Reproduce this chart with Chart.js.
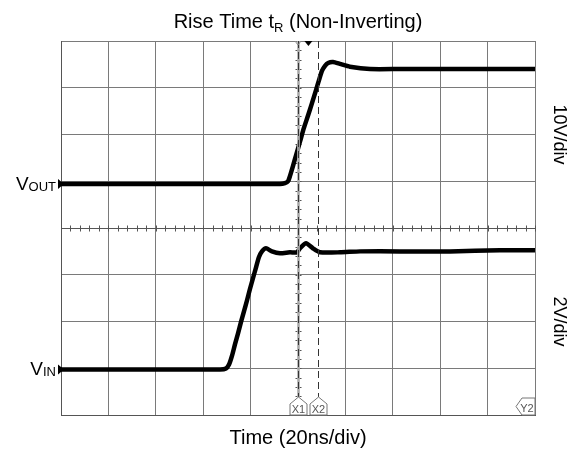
<!DOCTYPE html>
<html><head><meta charset="utf-8">
<script src="https://cdn.jsdelivr.net/npm/chart.js@4"></script>
<style>html,body{margin:0;padding:0;background:#fff}</style>
</head><body>
<canvas id="c" width="568" height="450" style="width:568px;height:450px;display:block"></canvas>
<script>
// ---- data (time in ns, 20 ns/div, 0 = centre of screen) ----
const voutTimeNs = [-100, -60, -20, -7.6, -5.5, -4.2, -3.4, -2.1, -0.8, 0.8, 2.5, 4.2, 5.9, 7.6, 8.9, 10.1, 11.4, 12.7, 14.8, 17.7, 21.9, 30.4, 43, 64, 85, 100];
const voutVolts  = [0, 0, 0, 0, 0.2, 0.6, 1.7, 3.9, 6.2, 9.0, 12.0, 14.6, 17.3, 20.1, 22.3, 24.2, 25.3, 25.9, 26.1, 25.7, 25.1, 24.6, 24.6, 24.6, 24.6, 24.6];
const vinTimeNs  = [-100, -60, -32.9, -30.4, -29.1, -27.8, -26.6, -25.3, -24.1, -22.8, -21.5, -20.3, -19.0, -17.7, -16.5, -15.2, -13.5, -11.0, -7.6, -3.4, -0.4, 0.8, 3.4, 6.3, 9.3, 17.7, 26.2, 43, 64.1, 85.2, 100];
const vinVolts   = [0, 0, 0, 0.04, 0.21, 0.60, 1.07, 1.54, 2.01, 2.48, 2.96, 3.43, 3.90, 4.37, 4.80, 5.05, 5.18, 5.05, 4.97, 5.01, 5.01, 5.18, 5.40, 5.18, 5.01, 5.01, 5.05, 5.05, 5.05, 5.10, 5.10];
const cursorNames = ['X1', 'X2'];
const cursorTimeNs = [0, 8.4];
const triggerTimeNs = [4.4];
const xTicksNs = [-100, -80, -60, -40, -20, 0, 20, 40, 60, 80, 100];
const divTicks = [-4, -3, -2, -1, 0, 1, 2, 3, 4];
const voutRange = [-49.4, 30.6];   // 10 V/div, 8 div
const vinRange  = [-1.95, 14.05];  // 2 V/div, 8 div
const titleMain = 'Rise Time t';
const titleSub = 'R';
const titleTail = ' (Non-Inverting)';
const xTitle = 'Time (20ns/div)';
const voutScaleLabel = '10V/div';
const vinScaleLabel = '2V/div';

const FONT = '"Liberation Sans", Arial, sans-serif';
const toPts = (xs, ys) => xs.map((x, i) => ({x: x, y: ys[i]}));

const scopePlugin = {
  id: 'scope',
  beforeDatasetsDraw(chart) {
    const ctx = chart.ctx, xs = chart.scales.x, ys = chart.scales.yGrid;
    ctx.save();
    ctx.strokeStyle = '#555';
    ctx.lineWidth = 1;
    const cy = Math.round(ys.getPixelForValue(0)) + 0.5;
    ctx.beginPath(); ctx.moveTo(xs.left, cy); ctx.lineTo(xs.right, cy); ctx.stroke();
    for (let t = -100; t <= 100; t += 4) {
      const px = Math.round(xs.getPixelForValue(t)) + 0.5;
      ctx.beginPath(); ctx.moveTo(px, cy - 3); ctx.lineTo(px, cy + 3); ctx.stroke();
    }
    const cx = Math.round(xs.getPixelForValue(0)) + 0.5;
    for (let d = -4; d <= 4; d += 0.2) {
      const py = Math.round(ys.getPixelForValue(d)) + 0.5;
      ctx.beginPath(); ctx.moveTo(cx - 3, py); ctx.lineTo(cx + 3, py); ctx.stroke();
    }
    ctx.restore();
  },
  afterDatasetsDraw(chart) {
    const ctx = chart.ctx, xs = chart.scales.x, a = chart.chartArea;
    ctx.save();
    cursorTimeNs.forEach((t, i) => {
      const px = Math.round(xs.getPixelForValue(t)) + 0.5;
      if (i === 0) {
        ctx.strokeStyle = 'rgba(175,175,175,0.85)'; ctx.lineWidth = 3; ctx.setLineDash([]);
        ctx.beginPath(); ctx.moveTo(px, a.top); ctx.lineTo(px, a.bottom - 18); ctx.stroke();
      }
      ctx.strokeStyle = '#333'; ctx.lineWidth = 1; ctx.setLineDash([7, 4]);
      ctx.beginPath(); ctx.moveTo(px, a.top); ctx.lineTo(px, a.bottom - 18); ctx.stroke();
      ctx.setLineDash([]);
      const hw = 8.5, y0 = a.bottom, yS = a.bottom - 11, yA = a.bottom - 18;
      ctx.fillStyle = '#fff'; ctx.strokeStyle = '#777'; ctx.lineWidth = 1;
      ctx.beginPath();
      ctx.moveTo(px - hw, y0); ctx.lineTo(px - hw, yS); ctx.lineTo(px, yA); ctx.lineTo(px + hw, yS); ctx.lineTo(px + hw, y0);
      ctx.closePath(); ctx.fill(); ctx.stroke();
      ctx.fillStyle = '#555'; ctx.font = '11px ' + FONT; ctx.textAlign = 'center'; ctx.textBaseline = 'alphabetic';
      ctx.fillText(cursorNames[i], px, y0 - 2);
    });
    {
      const r = a.right, b = a.bottom;
      ctx.fillStyle = '#fff'; ctx.strokeStyle = '#777'; ctx.lineWidth = 1;
      ctx.beginPath();
      ctx.moveTo(r, b - 17); ctx.lineTo(r - 13, b - 17); ctx.lineTo(r - 19, b - 8.5); ctx.lineTo(r - 13, b); ctx.lineTo(r, b);
      ctx.closePath(); ctx.fill(); ctx.stroke();
      ctx.fillStyle = '#555'; ctx.font = '11px ' + FONT; ctx.textAlign = 'center';
      ctx.fillText('Y2', r - 8, b - 3);
    }
    {
      const px = xs.getPixelForValue(triggerTimeNs[0]);
      ctx.fillStyle = '#000';
      ctx.beginPath(); ctx.moveTo(px - 4, a.top); ctx.lineTo(px + 4, a.top); ctx.lineTo(px, a.top + 5); ctx.closePath(); ctx.fill();
      const p1 = xs.getPixelForValue(cursorTimeNs[0]);
      ctx.strokeStyle = '#888'; ctx.lineWidth = 1;
      ctx.beginPath(); ctx.moveTo(p1 - 3, a.top); ctx.lineTo(p1, a.top + 4); ctx.lineTo(p1 + 3, a.top); ctx.stroke();
    }
    ['yOut', 'yIn'].forEach(id => {
      const py = chart.scales[id].getPixelForValue(0);
      ctx.fillStyle = '#000';
      ctx.beginPath(); ctx.moveTo(a.left - 3, py - 5); ctx.lineTo(a.left + 3, py); ctx.lineTo(a.left - 3, py + 5); ctx.closePath(); ctx.fill();
    });
    ctx.restore();
  },
  afterDraw(chart) {
    const ctx = chart.ctx, a = chart.chartArea;
    const cxp = (a.left + a.right) / 2;
    ctx.save();
    ctx.fillStyle = '#000'; ctx.textBaseline = 'alphabetic';
    const big = '20px ' + FONT, small = '13px ' + FONT;
    ctx.font = big; const w1 = ctx.measureText(titleMain).width, w3 = ctx.measureText(titleTail).width;
    ctx.font = small; const w2 = ctx.measureText(titleSub).width;
    let x0 = cxp - (w1 + w2 + w3) / 2;
    ctx.textAlign = 'left';
    ctx.font = big; ctx.fillText(titleMain, x0, 28);
    ctx.font = small; ctx.fillText(titleSub, x0 + w1, 32);
    ctx.font = big; ctx.fillText(titleTail, x0 + w1 + w2, 28);
    const chanLabel = (main, sub, id) => {
      const py = chart.scales[id].getPixelForValue(0);
      ctx.font = '19px ' + FONT; const m = ctx.measureText(main).width;
      ctx.font = '13px ' + FONT; const s = ctx.measureText(sub).width;
      const xr = a.left - 5;
      ctx.font = '19px ' + FONT; ctx.fillText(main, xr - s - m, py + 6);
      ctx.font = '13px ' + FONT; ctx.fillText(sub, xr - s, py + 7);
    };
    chanLabel('V', 'OUT', 'yOut');
    chanLabel('V', 'IN', 'yIn');
    ctx.font = '20px ' + FONT; ctx.textAlign = 'center';
    ctx.fillText(xTitle, cxp, 444);
    const rot = (txt, cy) => {
      ctx.save(); ctx.translate(550, cy); ctx.rotate(Math.PI / 2);
      ctx.font = '18px ' + FONT; ctx.textAlign = 'center'; ctx.textBaseline = 'bottom';
      ctx.fillText(txt, 0, 0); ctx.restore();
    };
    const yg = chart.scales.yGrid;
    rot(voutScaleLabel, yg.getPixelForValue(2));
    rot(vinScaleLabel, yg.getPixelForValue(-2));
    ctx.restore();
  }
};

new Chart(document.getElementById('c'), {
  type: 'line',
  data: {
    datasets: [
      { label: 'VOUT', data: toPts(voutTimeNs, voutVolts), yAxisID: 'yOut', borderColor: '#000', borderWidth: 4.5, pointRadius: 0, tension: 0.2, fill: false },
      { label: 'VIN', data: toPts(vinTimeNs, vinVolts), yAxisID: 'yIn', borderColor: '#000', borderWidth: 4.5, pointRadius: 0, tension: 0.2, fill: false }
    ]
  },
  options: {
    responsive: false, animation: false, devicePixelRatio: 1,
    layout: { padding: { left: 61, top: 41, right: 33, bottom: 35 } },
    plugins: { legend: { display: false }, tooltip: { enabled: false }, title: { display: false } },
    scales: {
      x: { type: 'linear', min: -100, max: 100,
           afterBuildTicks: s => { s.ticks = xTicksNs.map(v => ({value: v})); },
           ticks: { display: false }, grid: { color: '#7a7a7a', lineWidth: 1, drawTicks: false },
           border: { display: true, color: '#555', width: 1 } },
      yGrid: { type: 'linear', position: 'left', min: -4, max: 4,
           afterBuildTicks: s => { s.ticks = divTicks.map(v => ({value: v})); },
           ticks: { display: false }, grid: { color: '#7a7a7a', lineWidth: 1, drawTicks: false },
           border: { display: true, color: '#555', width: 1 } },
      yOut: { type: 'linear', display: false, min: voutRange[0], max: voutRange[1] },
      yIn: { type: 'linear', display: false, min: vinRange[0], max: vinRange[1] }
    }
  },
  plugins: [scopePlugin]
});
</script>
</body></html>
